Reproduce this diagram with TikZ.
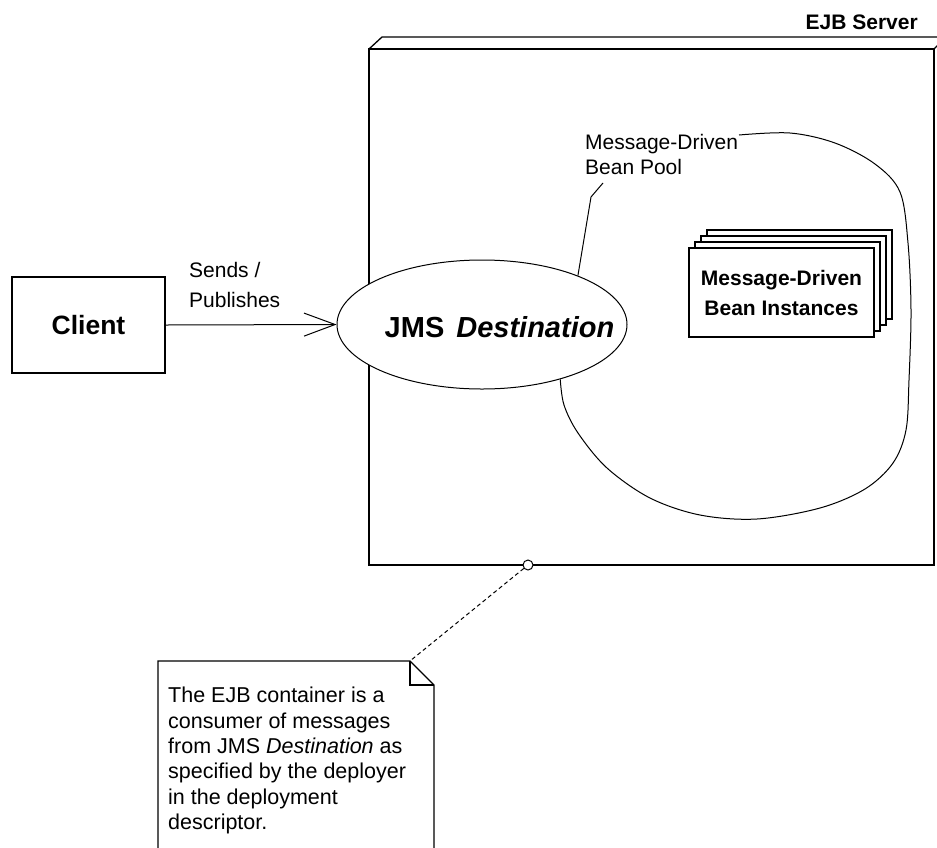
\documentclass[tikz,border=0pt]{standalone}
\usepackage{fontspec}
\setmainfont{Liberation Sans}
\usetikzlibrary{shapes.geometric,arrows.meta}
\tikzset{
  ln/.style={line width=1pt, black},
  boxline/.style={line width=1.3pt, black},
  lbl/.style={inner sep=0pt, align=left, font=\fontsize{21}{25}\selectfont},
  stackbox/.style={draw, line width=1.2pt, fill=white, minimum width=185pt, minimum height=89pt, inner sep=0pt},
}
\begin{document}
\begin{tikzpicture}[x=1pt,y=-1pt]
\useasboundingbox (0,0) rectangle (937,847);

% EJB Server box
\draw[boxline] (369,49) rectangle (934,565);
\draw[boxline] (369,49) -- (382,37) -- (945,37);
\draw[boxline] (934,49) -- (945,38);
\node[anchor=base east, inner sep=0pt, font=\fontsize{21}{25}\selectfont\bfseries] (srv) at (918,29) {EJB Server};

% Client
\node[draw, line width=1.2pt, minimum width=153pt, minimum height=96pt, inner sep=0pt,
      font=\fontsize{26.5}{30}\selectfont\bfseries] (client) at (88.5,325) {Client};

% JMS Destination ellipse
\node[ellipse, draw, line width=1pt, fill=white, minimum width=290pt, minimum height=129pt, inner sep=0pt] (dest) at (482,324.5) {};
\node[inner sep=0pt, font=\fontsize{29}{32}\selectfont\bfseries] (desttxt) at (499.5,327) {JMS\hspace{12pt}\textit{Destination}};

% arrow client -> destination
\draw[ln, -{Straight Barb[length=31pt, width=23pt]}] (client.east) -- (dest.west);
\node[lbl, anchor=north west, font=\fontsize{21}{30}\selectfont] (sends) at (189,262) {Sends /\\Publishes};

% Bean pool label and boundary
\node[lbl, anchor=north west] (pool) at (585,134) {Message-Driven\\Bean Pool};
\coordinate (poolend) at (739,135);
\coordinate (pooltip) at (603,183);
\draw[ln] (dest.27) -- (591,197) -- (pooltip);
\draw[ln] plot[smooth, tension=0.55] coordinates {(poolend) (790,133) (835,143) (875,164) (900,192) (908,243) (911,310) (909,380) (906,430) (893,463) (865,489) (820,508) (757,519) (700,515) (650,498) (607,468) (578,433) (564,405) (dest.-35)};

% Bean instances stack
\node[stackbox] (b4) at (799.5,274.5) {};
\node[stackbox] (b3) at (793.5,280.5) {};
\node[stackbox] (b2) at (787.5,286.5) {};
\node[stackbox, align=center, font=\fontsize{21}{30}\selectfont\bfseries] (b1) at (781.5,292.5) {Message-Driven\\Bean Instances};

% note
\node[draw, circle, line width=1pt, fill=white, minimum size=10pt, inner sep=0pt] (circ) at (528,565) {};
\coordinate (fold) at (410,661);
\draw[ln, dash pattern=on 4pt off 3pt] (circ) -- (fold);
\draw[line width=1.2pt] (158,860) -- (158,661) -- (fold) -- (434,685) -- (434,860);
\draw[line width=1.5pt] (fold) -- (410,685) -- (434,685);
\node[lbl, anchor=north west, font=\fontsize{21.5}{25.4}\selectfont] (note) at (168,687)
  {The EJB container is a\\consumer of messages\\from JMS \textit{Destination} as\\specified by the deployer\\in the deployment\\descriptor.};
\end{tikzpicture}
\end{document}
